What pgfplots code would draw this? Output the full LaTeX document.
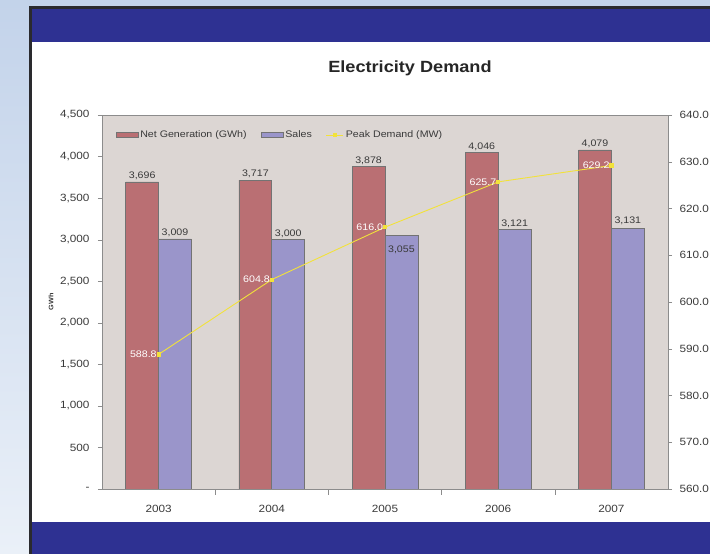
\documentclass[border=0pt]{standalone}
\usepackage{fontspec}
\setmainfont{Liberation Sans}[FakeStretch=1.12]
\usepackage{pgfplots}
\usepackage{pgfplotstable}
\pgfplotsset{compat=1.18}
\definecolor{band}{HTML}{2E3192}
\definecolor{framec}{HTML}{2A2A2E}
\definecolor{outtop}{HTML}{C3D3EA}
\definecolor{outbot}{HTML}{EAF0F8}
\definecolor{plotbg}{HTML}{DCD6D3}
\definecolor{redbar}{HTML}{BA6F73}
\definecolor{bluebar}{HTML}{9A95CA}
\definecolor{yline}{HTML}{F2E23A}
\definecolor{labelgray}{HTML}{3A3A3A}
\pgfplotsset{barlegend/.style={legend image code/.code={\draw[##1] (0pt,-2.5pt) rectangle (22pt,2.5pt);}}}

\pgfplotstableread{
x gen sales soff peak
0 3696 3009 0 588.8
1 3717 3000 0 604.8
2 3878 3055 -21 616.0
3 4046 3121 0 625.7
4 4079 3131 2 629.2
}\datatable

\begin{document}
\begin{tikzpicture}
\clip (0pt,0pt) rectangle (710pt,554pt);
\shade[top color=outtop,bottom color=outbot] (0pt,0pt) rectangle (710pt,554pt);
\fill[framec] (29pt,0pt) rectangle (710pt,548pt);
\fill[band] (32pt,512pt) rectangle (710pt,545pt);
\fill[band] (32pt,0pt) rectangle (710pt,32pt);
\fill[white] (32pt,32pt) rectangle (710pt,512pt);
\node[font=\bfseries\fontsize{16.2}{19}\selectfont, text=black!85] at (410pt,486pt) {Electricity Demand};
\node[rotate=90, font=\bfseries\fontsize{6.5}{8}\selectfont, text=labelgray] at (51pt,252pt) {GWh};

\begin{axis}[
  at={(102pt,65pt)}, anchor=south west, width=566pt, height=374pt, scale only axis,
  xmin=-0.5, xmax=4.5, ymin=0, ymax=4500,
  axis background/.style={fill=plotbg},
  axis line style={draw=black!45},
  xtick={0,...,4}, xticklabels={2003,2004,2005,2006,2007},
  xtick style={draw=none},
  minor xtick={0.5,1.5,2.5,3.5},
  minor x tick style={draw=black!45},
  minor tick length=6pt,
  xtick align=center,
  ytick align=outside,
  major tick length=4pt,
  ytick style={draw=black!45},
  xtick pos=bottom, ytick pos=left,
  ytick={0,500,...,4500},
  yticklabels={-,500,{1,000},{1,500},{2,000},{2,500},{3,000},{3,500},{4,000},{4,500}},
  ticklabel style={font=\fontsize{10.5}{12}\selectfont, text=labelgray},
  yticklabel style={xshift=-5pt},
  xticklabel style={yshift=-9pt},
  ybar, bar width=0.29,
  nodes near coords={\pgfmathprintnumber[1000 sep={,},assume math mode=true]{\pgfplotspointmeta}},
  every node near coord/.append style={font=\fontsize{9.5}{11}\selectfont, text=labelgray, inner sep=2pt},
]
\addplot[fill=redbar, draw=black!55, line width=0.6pt, bar shift=-0.145] table[x=x,y=gen] {\datatable};
\addplot[fill=bluebar, draw=black!55, line width=0.6pt, bar shift=0.145,
  visualization depends on={\thisrow{soff} \as \soff},
  every node near coord/.append style={yshift=\soff}] table[x=x,y=sales] {\datatable};
\end{axis}

\begin{axis}[
  at={(102pt,65pt)}, anchor=south west, width=566pt, height=374pt, scale only axis,
  xmin=-0.5, xmax=4.5, ymin=560, ymax=640,
  axis x line=none, axis y line*=right,
  axis line style={draw=black!45, -},
  ytick={560,570,...,640},
  ytick align=outside, major tick length=4pt,
  ytick style={draw=black!45},
  yticklabel={\pgfmathprintnumber[fixed,fixed zerofill,precision=1,assume math mode=true]{\tick}},
  ticklabel style={font=\fontsize{10.5}{12}\selectfont, text=labelgray},
  yticklabel style={xshift=4pt},
  legend style={at={(0.022,0.946)}, anchor=west, draw=none, fill=none,
    font=\fontsize{9.5}{11}\selectfont, text=labelgray, inner sep=1pt,
    /tikz/every even column/.append style={column sep=12pt}},
  legend columns=3,
]
\addlegendimage{fill=redbar, draw=black!55, line width=0.6pt, barlegend}
\addlegendentry{Net Generation (GWh)}
\addlegendimage{fill=bluebar, draw=black!55, line width=0.6pt, barlegend}
\addlegendentry{Sales}
\addplot[yline, line width=0.9pt, mark=square*, mark size=1.6pt, mark options={fill=yline, draw=yline},
  nodes near coords={\pgfmathprintnumber[fixed,fixed zerofill,precision=1,assume math mode=true]{\pgfplotspointmeta}},
  every node near coord/.append style={anchor=east, text=white, font=\fontsize{9.5}{11}\selectfont, inner sep=1.5pt}]
  table[x=x,y=peak] {\datatable};
\addlegendentry{Peak Demand (MW)}
\end{axis}
\end{tikzpicture}
\end{document}
